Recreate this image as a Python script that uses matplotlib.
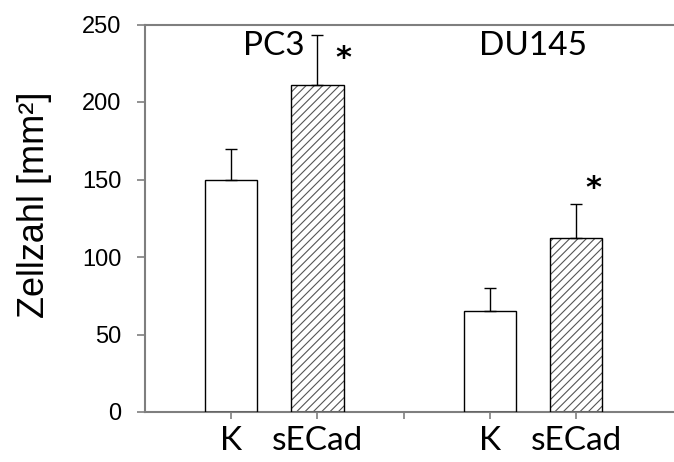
import matplotlib
matplotlib.use("Agg")
import matplotlib.pyplot as plt

# Data
groups = ["PC3", "DU145"]
conditions = ["K", "sECad"]
positions = [1, 2, 4, 5]
tick_positions = [1, 2, 3, 4, 5]
tick_labels = ["K", "sECad", "", "K", "sECad"]
values = [150, 211, 65, 112]
errors = [20, 32, 15, 22]
hatched = [False, True, False, True]
group_label_x = [1.5, 4.5]
star_x = [2.3, 5.2]
star_y = [228, 144]
yticks = [0, 50, 100, 150, 200, 250]

plt.rcParams['hatch.color'] = '#555555'
plt.rcParams['hatch.linewidth'] = 0.8

fig = plt.figure(figsize=(6.74, 4.62), dpi=100)
ax = fig.add_axes([145/674, 1-412/462, 1-145/674, (412-24.5)/462])

for x, v, h in zip(positions, values, hatched):
    if h:
        ax.bar(x, v, width=0.61, color='white', edgecolor='#555555', hatch='////', linewidth=0, zorder=2)
    ax.bar(x, v, width=0.61, facecolor='none', edgecolor='black', linewidth=1.0, zorder=3)

ax.errorbar(positions, values, yerr=[[0]*len(errors), errors], fmt='none', ecolor='black',
            elinewidth=1.0, capsize=4, capthick=1.0, zorder=4)

ax.set_xlim(0, 6.137)
ax.set_ylim(0, 250)
ax.set_yticks(yticks)
ax.set_yticklabels([str(t) for t in yticks], family='Liberation Sans', fontsize=17)
ax.set_xticks(tick_positions)
ax.set_xticklabels(tick_labels, family='Lato', fontsize=24)

for s in ['left', 'bottom', 'top']:
    ax.spines[s].set_color('#7f7f7f')
    ax.spines[s].set_linewidth(1.5)
ax.spines['right'].set_visible(False)
ax.tick_params(axis='y', direction='out', length=6, width=1.2, color='#7f7f7f', pad=11)
ax.tick_params(axis='x', direction='out', length=5, width=1.2, color='#7f7f7f', pad=5)

for gx, g in zip(group_label_x, groups):
    ax.text(gx, 236, g, family='Lato', fontsize=24, ha='center', va='center')
for sx, sy in zip(star_x, star_y):
    ax.text(sx, sy, '*', family='DejaVu Sans', fontweight='bold', fontsize=22, ha='center', va='center')

fig.text(35/674, 1-205/462, 'Zellzahl [mm²]', family='Liberation Sans', fontsize=26,
         rotation=90, ha='center', va='center')

fig.savefig('out.png', dpi=100)
